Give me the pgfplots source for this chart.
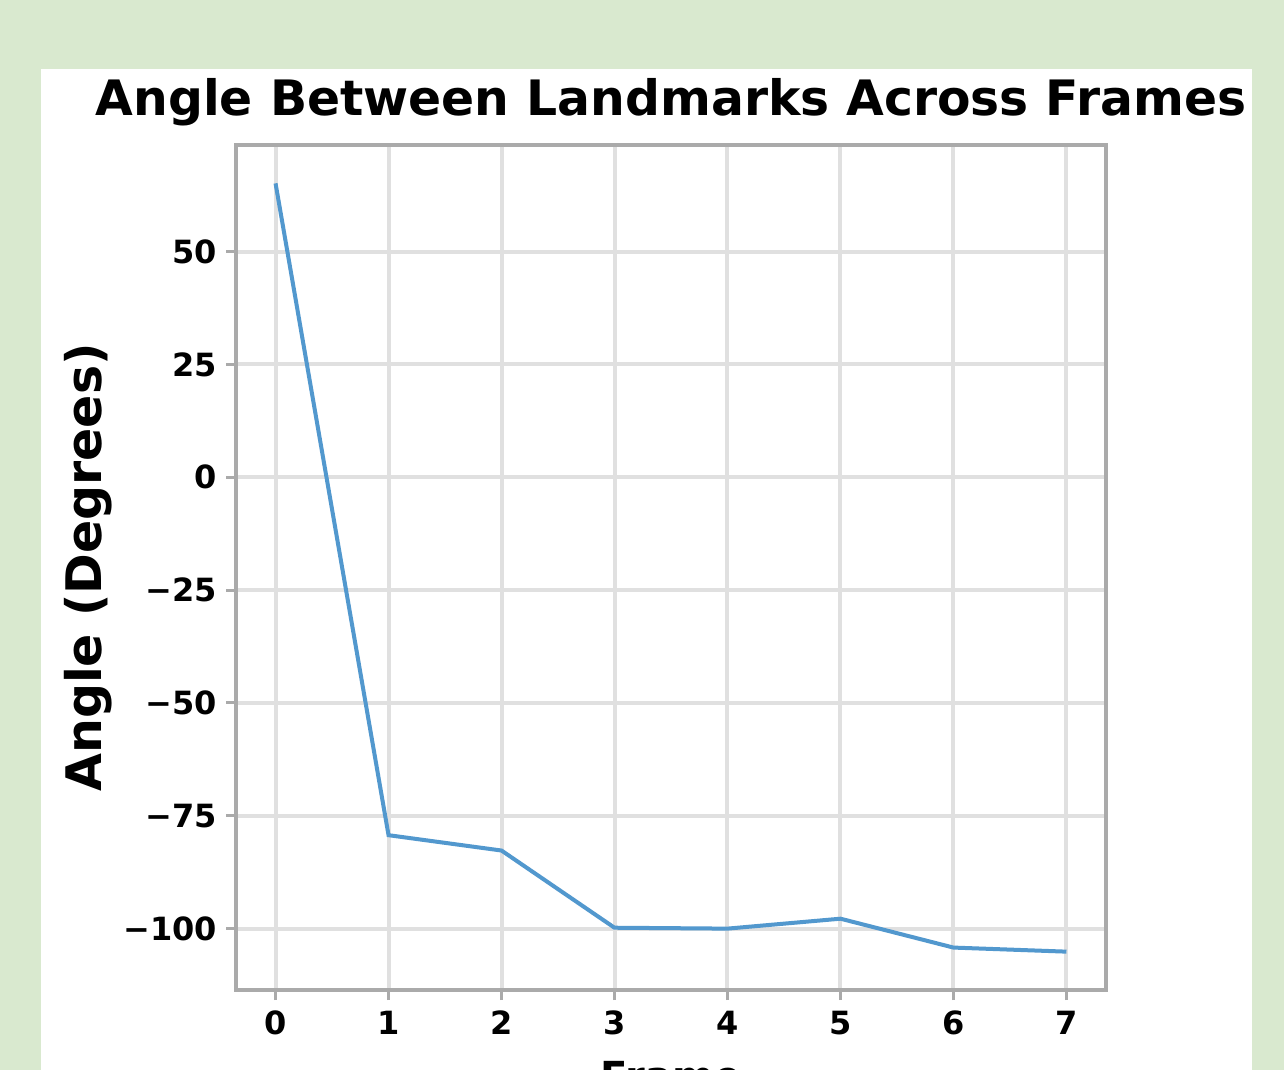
\documentclass[border=0pt]{standalone}
\usepackage{fontspec}
\setmainfont{DejaVu Sans}
\usepackage{pgfplots}
\pgfplotsset{compat=1.18}
\definecolor{pagegreen}{RGB}{217,233,207}
\definecolor{lineblue}{RGB}{82,152,206}
\definecolor{framegray}{RGB}{170,170,170}
\definecolor{gridgray}{RGB}{224,224,224}

\begin{document}
\begin{tikzpicture}
% canvas is 642pt x 535pt, 1 px of the reference = 0.5pt
\useasboundingbox (0,0) rectangle (642pt,-535pt);
\clip (0,0) rectangle (642pt,-535pt);
\fill[pagegreen] (0,0) rectangle (642pt,-535pt);
\fill[white] (20.5pt,-34.5pt) rectangle (626pt,-540pt);
\begin{axis}[
	at={(118pt,-495pt)}, anchor=south west,
	scale only axis,
	width=435pt, height=422.5pt,
	xmin=-0.35, xmax=7.35,
	ymin=-113.6, ymax=73.6,
	xtick={0,1,...,7},
	ytick={-100,-75,-50,-25,0,25,50},
	yticklabels={−100,−75,−50,−25,0,25,50},
	xtick pos=bottom, ytick pos=left,
	grid=major,
	grid style={gridgray, line width=2pt},
	axis line style={framegray, line width=2pt},
	tick align=outside,
	major tick length=5pt,
	tick style={framegray, line width=1.5pt},
	/pgf/number format/assume math mode=true,
	tick label style={font=\bfseries\fontsize{16}{16}\selectfont, black},
	xticklabel style={yshift=-2pt},
	yticklabel style={xshift=-1pt},
	title={Angle Between Landmarks Across Frames},
	title style={font=\bfseries\fontsize{24.4}{24.4}\selectfont, at={(0.5,1)}, anchor=base, yshift=9pt},
	ylabel={Angle (Degrees)},
	ylabel style={font=\bfseries\fontsize{24.5}{24.5}\selectfont, at={(axis description cs:-0.170,0.5)}, anchor=center},
	xlabel={Frame},
	xlabel style={font=\bfseries\fontsize{20}{20}\selectfont, at={(axis description cs:0.5,-0.084)}, anchor=north, inner sep=0pt},
]
\addplot[lineblue, line width=2pt] coordinates {
(0,65.1) (1,-79.3) (2,-82.7) (3,-99.8) (4,-100.0) (5,-97.8) (6,-104.2) (7,-105.1)};
\end{axis}
\end{tikzpicture}
\end{document}
